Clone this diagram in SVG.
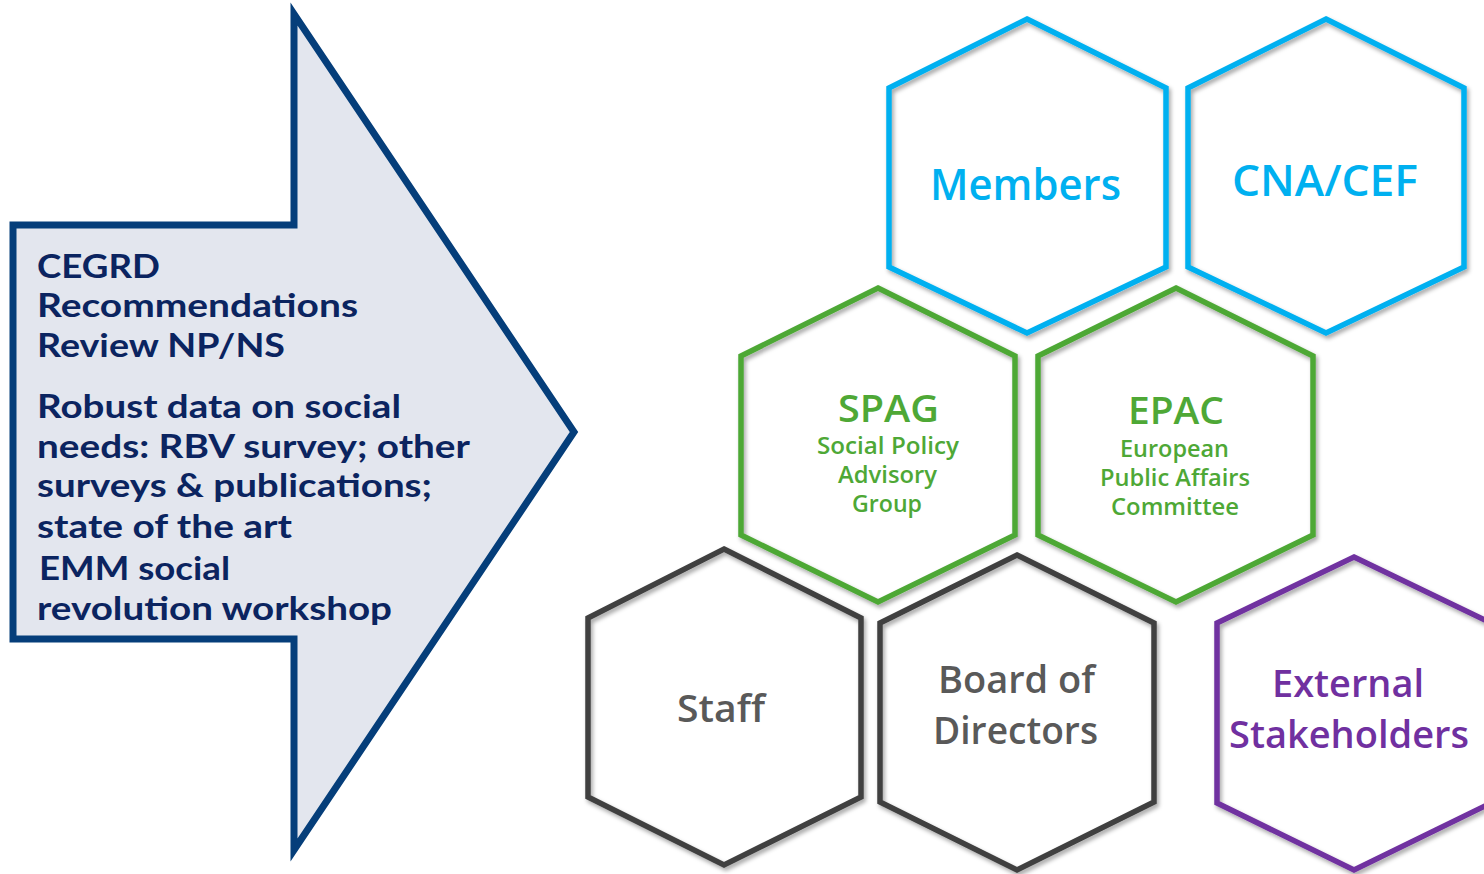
<svg xmlns="http://www.w3.org/2000/svg" width="1484" height="874" viewBox="0 0 1484 874">
<style>
.arrowtxt{font-family:Lato,"Open Sans","Liberation Sans",sans-serif;font-weight:700;font-size:33px;fill:#0B2460}
.hex{fill:none;stroke-width:5.5;stroke-linejoin:miter;filter:url(#sh)}
.t{font-family:"Open Sans","Noto Sans","Liberation Sans",sans-serif;font-weight:600}
.blue{stroke:#00B0F0}.green{stroke:#4EA836}.gray{stroke:#404040}.purple{stroke:#7030A0}
.fblue{fill:#00B0F0}.fgreen{fill:#4EA836}.fgray{fill:#595959}.fpurple{fill:#7030A0}
</style>
<defs>
<filter id="sh" x="-10%" y="-10%" width="120%" height="120%">
<feDropShadow dx="2" dy="3" stdDeviation="2" flood-color="#000" flood-opacity="0.35"/>
</filter>
</defs>
<rect width="1484" height="874" fill="#ffffff"/>

<g id="arrow">
<polygon points="13,225 294,225 294,14 574,432 294,850 294,639 13,639" fill="#E3E6EE" stroke="#053E7A" stroke-width="7" stroke-linejoin="miter"/>
<text class="arrowtxt" x="37" y="278" textLength="123" lengthAdjust="spacingAndGlyphs">CEGRD</text>
<text class="arrowtxt" x="37" y="317" textLength="321" lengthAdjust="spacingAndGlyphs">Recommendations</text>
<text class="arrowtxt" x="37" y="357" textLength="248" lengthAdjust="spacingAndGlyphs">Review NP/NS</text>
<text class="arrowtxt" x="37" y="418" textLength="364" lengthAdjust="spacingAndGlyphs">Robust data on social</text>
<text class="arrowtxt" x="37" y="458" textLength="433" lengthAdjust="spacingAndGlyphs">needs: RBV survey; other</text>
<text class="arrowtxt" x="37" y="497" textLength="395" lengthAdjust="spacingAndGlyphs">surveys &amp; publications;</text>
<text class="arrowtxt" x="37" y="538" textLength="255" lengthAdjust="spacingAndGlyphs">state of the art</text>
<text class="arrowtxt" x="39" y="580" textLength="191" lengthAdjust="spacingAndGlyphs">EMM social</text>
<text class="arrowtxt" x="37" y="620" textLength="355" lengthAdjust="spacingAndGlyphs">revolution workshop</text>
</g>

<g id="members">
<polygon class="hex blue" points="1027,19 1166,88 1166,267 1027,333 889,267 889,88"/>
<text class="t fblue" x="930" y="200" font-size="43" textLength="191" lengthAdjust="spacingAndGlyphs">Members</text>
</g>
<g id="cna-cef">
<polygon class="hex blue" points="1326,19 1464,88 1464,267 1326,333 1188,267 1188,88"/>
<text class="t fblue" x="1232" y="196" font-size="43" textLength="186" lengthAdjust="spacingAndGlyphs">CNA/CEF</text>
</g>
<g id="spag">
<polygon class="hex green" points="878,288 1015,356 1015,535 878,602 741,535 741,356"/>
<text class="t fgreen" x="838" y="422" font-size="37" textLength="101" lengthAdjust="spacingAndGlyphs">SPAG</text>
<text class="t fgreen" x="817" y="454" font-size="23" textLength="142" lengthAdjust="spacingAndGlyphs">Social Policy</text>
<text class="t fgreen" x="838" y="483" font-size="23" textLength="99" lengthAdjust="spacingAndGlyphs">Advisory</text>
<text class="t fgreen" x="852" y="512" font-size="23" textLength="70" lengthAdjust="spacingAndGlyphs">Group</text>
</g>
<g id="epac">
<polygon class="hex green" points="1176,288 1313,356 1313,535 1176,602 1038,535 1038,356"/>
<text class="t fgreen" x="1128" y="424" font-size="37" textLength="96" lengthAdjust="spacingAndGlyphs">EPAC</text>
<text class="t fgreen" x="1120" y="457" font-size="23" textLength="109" lengthAdjust="spacingAndGlyphs">European</text>
<text class="t fgreen" x="1100" y="486" font-size="23" textLength="150" lengthAdjust="spacingAndGlyphs">Public Affairs</text>
<text class="t fgreen" x="1111" y="515" font-size="23" textLength="128" lengthAdjust="spacingAndGlyphs">Committee</text>
</g>
<g id="staff">
<polygon class="hex gray" points="724,549 861,618 861,797 724,865 588,797 588,618"/>
<text class="t fgray" x="677" y="722" font-size="38" textLength="88" lengthAdjust="spacingAndGlyphs">Staff</text>
</g>
<g id="board">
<polygon class="hex gray" points="1017,555 1154,623 1154,802 1017,870 880,802 880,623"/>
<text class="t fgray" x="938" y="693" font-size="38" textLength="157" lengthAdjust="spacingAndGlyphs">Board of</text>
<text class="t fgray" x="933" y="744" font-size="38" textLength="165" lengthAdjust="spacingAndGlyphs">Directors</text>
</g>
<g id="external">
<polygon class="hex purple" points="1354,557 1491,623 1491,803 1354,870 1217,803 1217,623"/>
<text class="t fpurple" x="1272" y="697" font-size="38" textLength="152" lengthAdjust="spacingAndGlyphs">External</text>
<text class="t fpurple" x="1229" y="748" font-size="38" textLength="240" lengthAdjust="spacingAndGlyphs">Stakeholders</text>
</g>
<g id="connectors"></g>
</svg>
